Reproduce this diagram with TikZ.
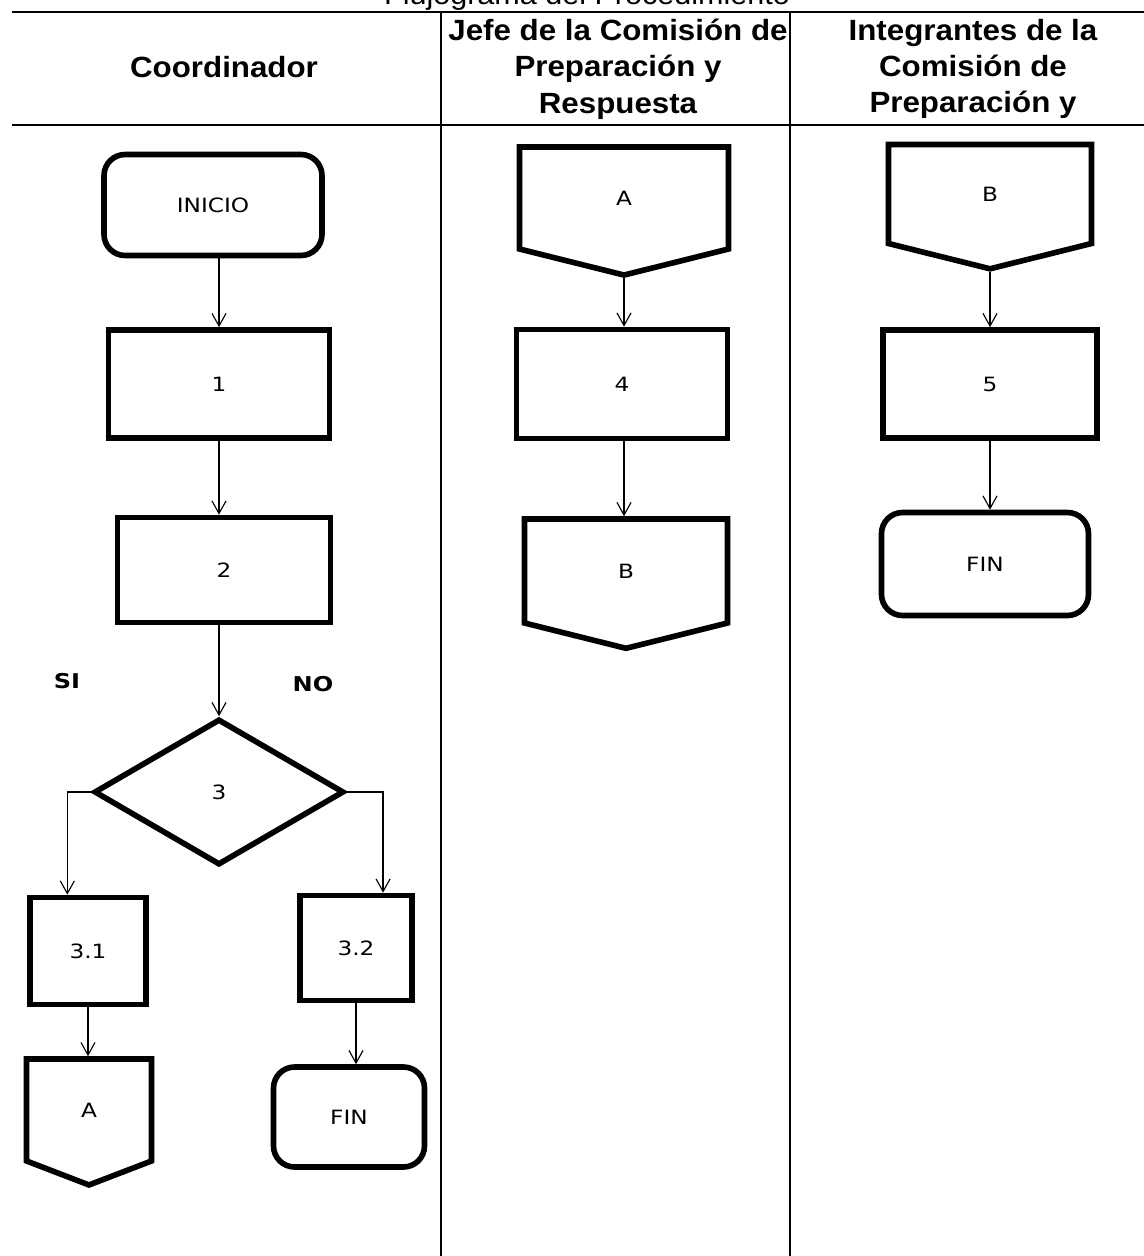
\documentclass[tikz,border=0pt]{standalone}
\usepackage{fontspec}
\setmainfont{Liberation Sans}
\newfontfamily\headfont{Liberation Sans}[FakeStretch=1.07]
\newfontfamily\boxfont{DejaVu Sans}[FakeStretch=1.18]
\usetikzlibrary{arrows.meta,calc,shapes.geometric,shapes.symbols}

\begin{document}
\begin{tikzpicture}[x=0.025cm, y=-0.025cm,
  wh/.style 2 args={minimum width=#1*0.025cm, minimum height=#2*0.025cm},
  shp/.style={draw, line width=4pt, inner sep=0pt, font=\boxfont\fontsize{14}{17}\selectfont},
  proc/.style={shp, rectangle},
  term/.style={shp, rectangle, rounded corners=15pt},
  dec/.style={shp, diamond},
  offpage/.style={shp, signal, signal to=south, signal from=nowhere, signal pointer angle=152},
  head/.style={font=\headfont\bfseries\fontsize{20.8}{25.9}\selectfont, align=center},
  lbl/.style={font=\boxfont\bfseries\fontsize{14.5}{17}\selectfont},
  flow/.style={-{Straight Barb[length=9pt,width=10pt]}, line width=0.8pt},
  lane/.style={line width=2pt}]
\useasboundingbox (0,0) rectangle (1144,1256);

% Title (cut off at the top)
\node[font=\headfont\fontsize{20.3}{24}\selectfont, anchor=base] (title) at (587,5) {Flujograma del Procedimiento};

% Lanes
\draw[lane] (12,12) -- (1144,12);
\draw[lane] (12,125) -- (1144,125);
\foreach \x in {441,790}
    \draw[lane] (\x,12) -- (\x,1256);

% Headers
\node[head] (hcoord) at (224,67) {Coordinador};
\node[head] (hjefe) at (618,69) {Jefe de la Comisión de\\Preparación y\\Respuesta};
\node[head] (hinteg) at (973,69) {Integrantes de la\\Comisión de\\Preparación y};

% Coordinador
\node[term, wh={218}{101}] (inicio) at (213,205) {INICIO};
\node[proc, wh={221}{108}] (n1) at (219,384) {1};
\node[proc, wh={213}{105}] (n2) at (224,570) {2};
\node[dec, wh={250}{146}] (d3) at (219,792) {3};
\node[lbl] (si) at (67,681) {SI};
\node[lbl] (no) at (313,684) {NO};
\node[proc, wh={116}{107}] (n31) at (88,951) {3.1};
\node[proc, wh={112}{105}] (n32) at (356,948) {3.2};
\node[offpage, signal pointer angle=138, wh={125}{105}] (offa1) at (89,1110) {A};
\node[term, wh={151}{100}] (fin1) at (349,1117) {FIN};

% Jefe de la Comision
\node[offpage, wh={209}{104}] (offa2) at (624,198) {A};
\node[proc, wh={211}{109}] (n4) at (622,384) {4};
\node[offpage, wh={203}{106}] (offb2) at (626,571) {B};

% Integrantes
\node[offpage, wh={203}{101}] (offb3) at (990,194) {B};
\node[proc, wh={214}{108}] (n5) at (990,384) {5};
\node[term, wh={207}{103}] (fin3) at (985,564) {FIN};

% Flow
\draw[flow] (inicio.south -| n1) -- (n1.north);
\draw[flow] (n1.south) -- (n1.south |- n2.north);
\draw[flow] (n2.south -| d3) -- (d3.north);
\draw[flow] (d3.west) -| ($(n31.north west)!0.33!(n31.north east)$);
\draw[flow] (d3.east) -| ($(n32.north west)!0.73!(n32.north east)$);
\draw[flow] (n31.south) -- (n31.south |- offa1.north);
\draw[flow] (n32.south) -- (n32.south |- fin1.north);
\draw[flow] (offa2.south) -- (offa2.south |- n4.north);
\draw[flow] (n4.south -| offa2.south) -- (offa2.south |- offb2.north);
\draw[flow] (offb3.south) -- (offb3.south |- n5.north);
\draw[flow] (offb3.south |- n5.south) -- (offb3.south |- fin3.north);
\end{tikzpicture}
\end{document}
